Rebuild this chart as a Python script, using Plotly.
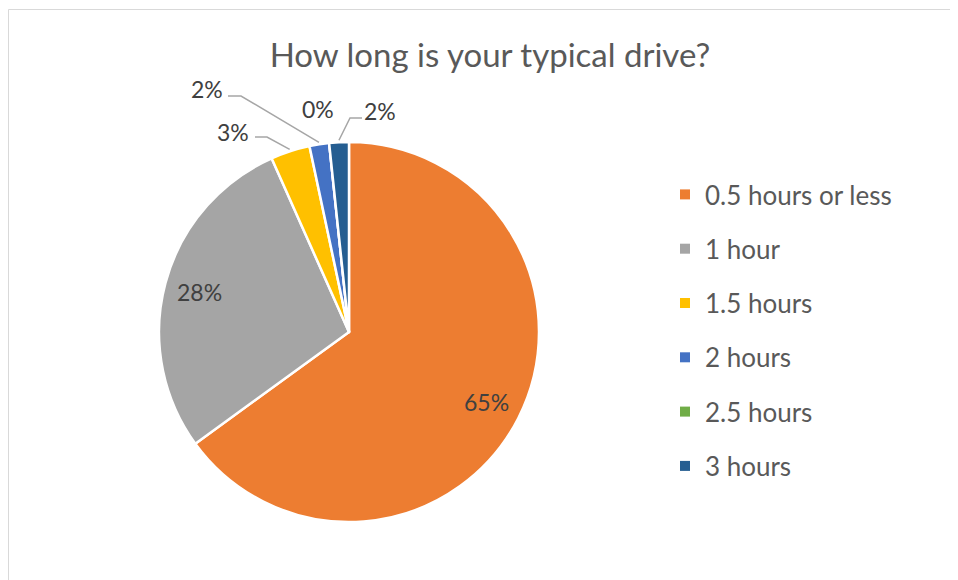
import math
import plotly.graph_objects as go

categories = ["0.5 hours or less", "1 hour", "1.5 hours", "2 hours", "2.5 hours", "3 hours"]
counts = [39, 17, 2, 1, 0, 1]
colors = ["#ED7D31", "#A5A5A5", "#FFC000", "#4472C4", "#70AD47", "#255E91"]

W, H = 958, 580
OFF = 8  # page body margin
FONT = "Lato, Calibri, sans-serif"
LABEL_FONT = dict(family=FONT, size=23, color="#404040")

# pie box in page pixels
cx, cy, r = 349, 332, 190

# outside labels: page pixel position of the text and the elbow start (None = no leader)
outside = {
    2: dict(text_xy=(233, 132), elbow=[(255, 137), (267, 137)]),
    3: dict(text_xy=(207, 89), elbow=[(228, 96), (241, 96)]),
    4: dict(text_xy=(318, 109), elbow=None),
    5: dict(text_xy=(380, 111), elbow=[(362, 118), (350, 118)]),
}


def px(x, y):
    return (x - OFF) / W, 1 - (y - OFF) / H


def label(x, y, text):
    ax, ay = px(x, y)
    fig.add_annotation(x=ax, y=ay, xref="paper", yref="paper", text=text,
                       xanchor="center", yanchor="middle", showarrow=False, font=LABEL_FONT)


total = sum(counts)
pcts = [f"{round(c / total * 100)}%" for c in counts]

fig = go.Figure()

x0, y1 = px(cx - r, cy - r)
x1, y0 = px(cx + r, cy + r)
fig.add_trace(go.Pie(
    labels=categories,
    values=counts,
    sort=False,
    direction="clockwise",
    rotation=0,
    marker=dict(colors=colors, line=dict(color="white", width=2.5)),
    textinfo="none",
    domain=dict(x=[x0, x1], y=[y0, y1]),
    showlegend=False,
    hoverinfo="label+percent",
))

# legend entries as separate items so the spacing can be set
for i, (cat, col) in enumerate(zip(categories, colors)):
    fig.add_trace(go.Scatter(
        x=[None], y=[None], mode="markers", name=cat,
        marker=dict(symbol="square", size=10, color=col),
        legendgroup=str(i), showlegend=True,
    ))

# data labels, anchored on the slice mid angle
cum = 0
for i, c in enumerate(counts):
    mid = (cum + c / 2) / total * 2 * math.pi
    cum += c
    if i not in outside:
        label(cx + 0.815 * r * math.sin(mid), cy - 0.815 * r * math.cos(mid), pcts[i])
        continue
    o = outside[i]
    label(*o["text_xy"], pcts[i])
    if o["elbow"]:
        ex = cx + (r + 2) * math.sin(mid)
        ey = cy - (r + 2) * math.cos(mid)
        pts = o["elbow"] + [(ex, ey)]
        path = "M " + " L ".join(f"{px(a, b)[0]},{px(a, b)[1]}" for a, b in pts)
        fig.add_shape(type="path", path=path, xref="paper", yref="paper",
                      line=dict(color="#A6A6A6", width=1.5))

# chart area border
fig.add_shape(type="rect", xref="paper", yref="paper", x0=0.5 / W, x1=1.02, y0=-0.02,
              y1=px(0, 9.5)[1], line=dict(color="#D9D9D9", width=1), fillcolor="rgba(0,0,0,0)")

tx, ty = px(490, 55)
lgx, lgy = px(665, 171)
fig.update_layout(
    width=W, height=H,
    margin=dict(l=0, r=0, t=0, b=0),
    paper_bgcolor="white", plot_bgcolor="white",
    font=dict(family=FONT, color="#595959"),
    title=dict(text="How long is your typical drive?", x=tx, xanchor="center",
               y=ty, yanchor="middle", font=dict(family=FONT, size=33, color="#595959")),
    xaxis=dict(visible=False), yaxis=dict(visible=False),
    legend=dict(x=lgx, y=lgy, xanchor="left", yanchor="top",
                font=dict(family=FONT, size=26, color="#595959"),
                tracegroupgap=17.5, bgcolor="rgba(0,0,0,0)"),
)

fig.write_html("out.html")
